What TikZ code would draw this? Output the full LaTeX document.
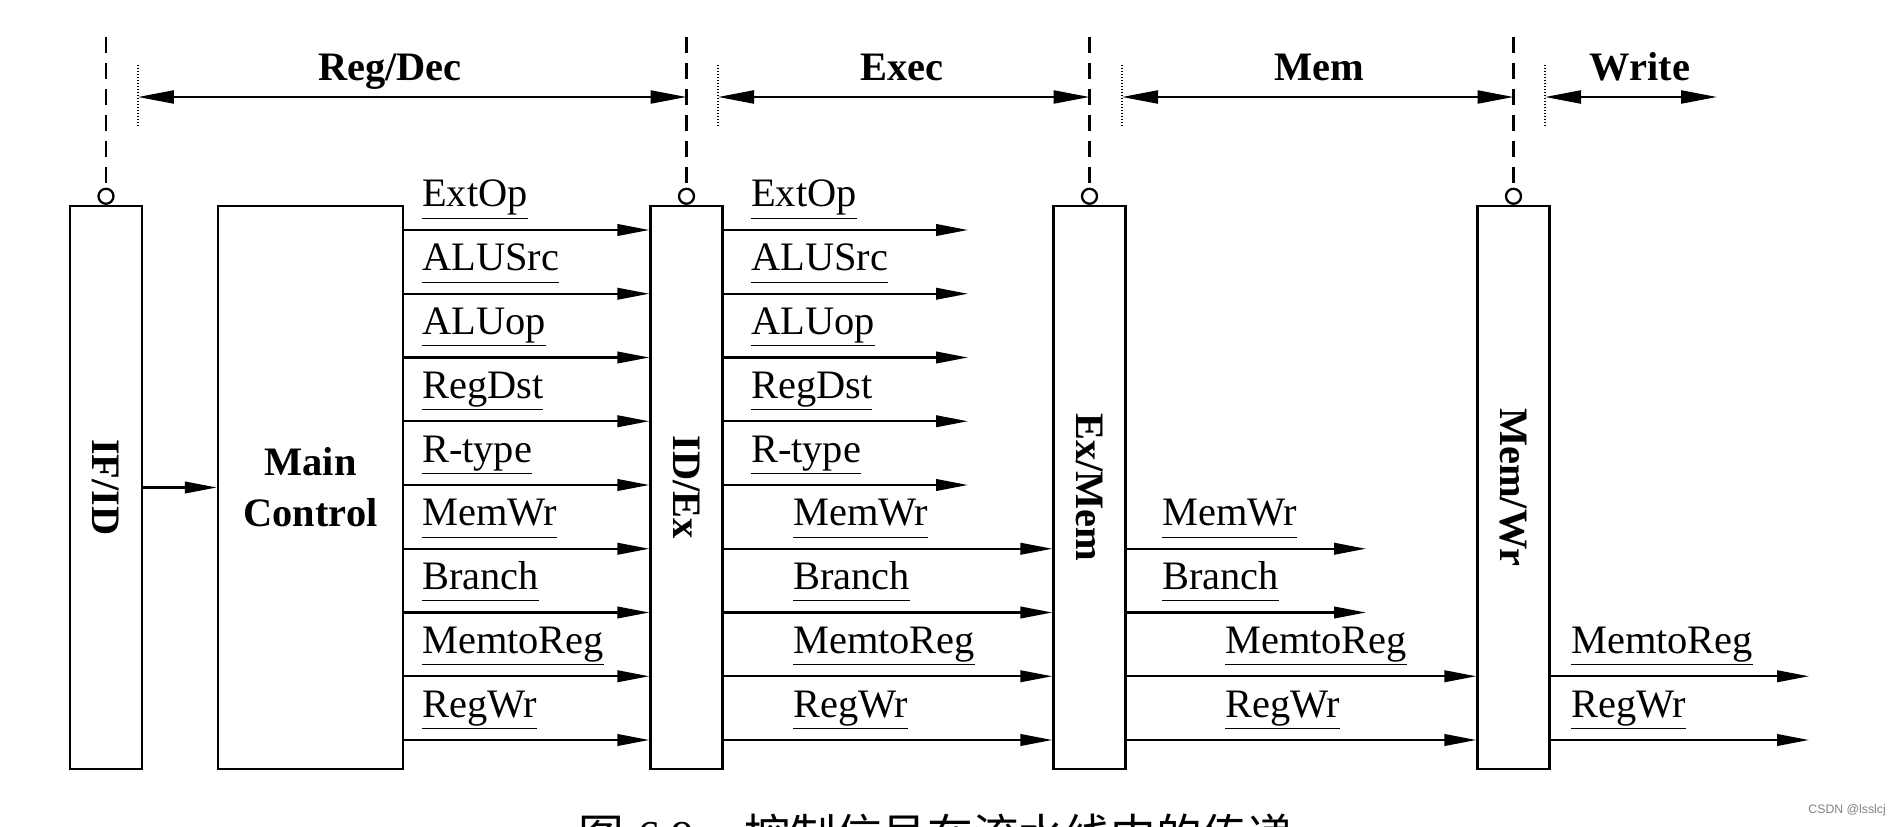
\documentclass[tikz,border=0pt]{standalone}
\usepackage{fontspec}
\setmainfont{Liberation Serif}
\newfontfamily\cjk{Noto Sans CJK SC}
\newfontfamily\wmark{Liberation Sans}
\usetikzlibrary{arrows.meta,positioning}

\tikzset{
  reg/.style={draw, minimum width=1.44cm, minimum height=11.26cm, inner sep=0pt},
  regname/.style={rotate=-90, font=\bfseries\fontsize{23}{27}\selectfont},
  clock/.style={draw, circle, minimum size=0.3cm, inner sep=0pt, anchor=south},
  clockline/.style={dash pattern=on 0.32cm off 0.2cm},
  stagemark/.style={line width=0.8pt, dash pattern=on 0.8pt off 0.9pt},
  sig/.style={-{Triangle[length=0.64cm,width=0.23cm]}},
  sigtxt/.style={font=\fontsize{23}{27}\selectfont, inner sep=0pt, anchor=base west},
  stage/.style={{Triangle[length=0.72cm,width=0.26cm]}-{Triangle[length=0.72cm,width=0.26cm]}},
  stagetxt/.style={font=\bfseries\fontsize{23}{27}\selectfont, inner sep=0pt, anchor=base}
}
\newcommand{\sgn}[1]{\underline{#1\vphantom{g}}}

\begin{document}
\begin{tikzpicture}[x=0.02cm,y=-0.02cm,line width=1.3pt]
\useasboundingbox (0,0) rectangle (1897,827);

\node[reg] (ifid) at (106,487.5) {};
\node[reg, minimum width=3.7cm] (ctrl) at (310.5,487.5) {};
\node[reg] (idex) at (686.5,487.5) {};
\node[reg] (exmem) at (1089.5,487.5) {};
\node[reg] (memwr) at (1513.5,487.5) {};

\node[regname] (ifidname) at (ifid) {IF/ID};
\node[regname] (idexname) at (idex) {ID/Ex};
\node[regname] (exmemname) at (exmem) {Ex/Mem};
\node[regname] (memwrname) at (memwr) {Mem/Wr};
\node[font=\bfseries\fontsize{23}{29}\selectfont, align=center] (ctrlname) at (ctrl) {Main\\Control};

\coordinate (top) at (0,37);
\foreach \r in {ifid,idex,exmem,memwr} {
  \node[clock] (c\r) at (\r.north) {};
  \draw[clockline] (\r.north |- top) -- (c\r.north);
}

\coordinate (s1) at (138,97);
\coordinate (s2) at (718,97);
\coordinate (s3) at (1122,97);
\coordinate (s4) at (1545,97);
\coordinate (wend) at (1717,97);
\foreach \s in {s1,s2,s3,s4}
  \draw[stagemark] ([yshift=0.64cm]\s) -- ([yshift=-0.56cm]\s);
\draw[stage] (s1) -- (idex.north |- s1);
\draw[stage] (s2) -- (exmem.north |- s2);
\draw[stage] (s3) -- (memwr.north |- s3);
\draw[stage] (s4) -- (wend);

\node[stagetxt] (regdec) at (390,81) {Reg/Dec};
\node[stagetxt] (exec) at (902,81) {Exec};
\node[stagetxt] (mem) at (1319,81) {Mem};
\node[stagetxt] (write) at (1640,81) {Write};

\draw[sig] (ifid) -- (ctrl);

\foreach \i in {0,...,8}
  \coordinate (r\i) at (0,{230+63.75*\i});

\foreach \s [count=\i from 0] in {ExtOp,ALUSrc,ALUop,RegDst,R-type,MemWr,Branch,MemtoReg,RegWr} {
  \node[sigtxt] (a\i) at (421,{207+63.75*\i}) {\sgn{\s}};
  \draw[sig] (ctrl.east |- r\i) -- (idex.west |- r\i);
}

\coordinate (e2) at (968,0);
\foreach \s [count=\i from 0] in {ExtOp,ALUSrc,ALUop,RegDst,R-type} {
  \node[sigtxt] (b\i) at (750,{207+63.75*\i}) {\sgn{\s}};
  \draw[sig] (idex.east |- r\i) -- (e2 |- r\i);
}
\foreach \s [count=\i from 5] in {MemWr,Branch,MemtoReg,RegWr} {
  \node[sigtxt] (b\i) at (792,{207+63.75*\i}) {\sgn{\s}};
  \draw[sig] (idex.east |- r\i) -- (exmem.west |- r\i);
}

\coordinate (e3) at (1366,0);
\foreach \s [count=\i from 5] in {MemWr,Branch} {
  \node[sigtxt] (m\i) at (1161,{207+63.75*\i}) {\sgn{\s}};
  \draw[sig] (exmem.east |- r\i) -- (e3 |- r\i);
}
\foreach \s [count=\i from 7] in {MemtoReg,RegWr} {
  \node[sigtxt] (m\i) at (1224,{207+63.75*\i}) {\sgn{\s}};
  \draw[sig] (exmem.east |- r\i) -- (memwr.west |- r\i);
}

\coordinate (e4) at (1809,0);
\foreach \s [count=\i from 7] in {MemtoReg,RegWr} {
  \node[sigtxt] (w\i) at (1570,{207+63.75*\i}) {\sgn{\s}};
  \draw[sig] (memwr.east |- r\i) -- (e4 |- r\i);
}

\begin{scope}
\clip (0,0) rectangle (1897,827);
\node[inner sep=0pt, anchor=base west, font=\fontsize{26}{30}\selectfont] (cap) at (577,852)
  {{\cjk 图}\hspace{0.3em}6.9\hspace{1.1em}{\cjk 控制信号在流水线中的传递}};
\end{scope}
\node[font=\wmark\fontsize{7}{8}\selectfont, text=gray, inner sep=0pt, anchor=east] (wm) at (1887,810) {CSDN @lsslcj};
\end{tikzpicture}
\end{document}
